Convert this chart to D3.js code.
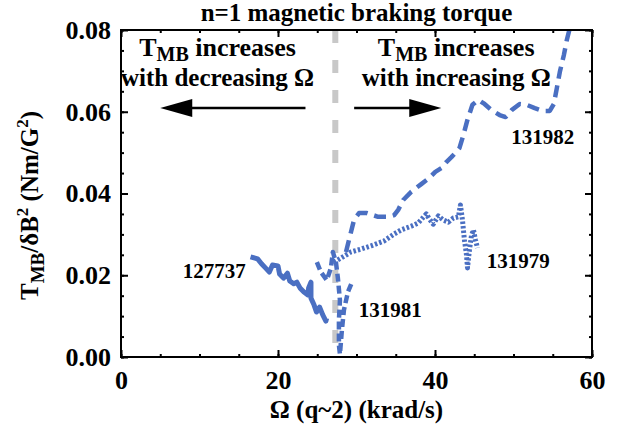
<!DOCTYPE html>
<html>
<head>
<meta charset="utf-8">
<script src="https://cdn.jsdelivr.net/npm/d3@7"></script>
<style>
  body { margin: 0; background: #fff; }
</style>
</head>
<body>
<svg id="chart"></svg>
<script>
var width = 617,
	height = 432;
var margin = ({top: 30, right: 25, bottom: 75, left: 121});
var serif = 'Liberation Serif, Times New Roman, DejaVu Serif, serif';

// Data: rotation (krad/s) and torque (Nm/G^2)
var omega127737 = [16.5, 17.4, 17.9, 18.4, 18.9, 19.3, 20.0, 20.2, 20.7, 21.2, 21.5, 22.0, 22.4, 22.8, 23.3, 23.8, 23.9, 24.2, 24.2, 24.6, 24.9, 25.3, 25.7, 26.1, 26.2];
var torque127737 = [0.0245, 0.0240, 0.0228, 0.0218, 0.0208, 0.0225, 0.0223, 0.0203, 0.0193, 0.0205, 0.0186, 0.0179, 0.0183, 0.0169, 0.0159, 0.0152, 0.0169, 0.0183, 0.0144, 0.0127, 0.0110, 0.0122, 0.0103, 0.0088, 0.0095];

var omega131981 = [24.95, 25.46, 26.22, 26.74, 26.99, 27.38, 27.63, 27.89, 27.76, 27.76, 27.89, 28.14, 28.40, 28.91, 29.42];
var torque131981 = [0.0232, 0.0208, 0.0188, 0.0218, 0.0257, 0.0232, 0.0193, 0.0139, 0.0091, 0.0029, 0.0007, 0.0066, 0.0115, 0.0159, 0.0183];

var omega131979 = [27.12, 28.02, 29.30, 30.58, 31.86, 33.52, 34.80, 35.69, 36.97, 37.87, 38.89, 39.27, 39.78, 40.42, 41.06, 41.70, 42.34, 42.98, 43.24, 43.50, 43.75, 44.01, 44.14, 44.39, 44.65, 44.90, 45.16, 45.41];
var torque131979 = [0.0232, 0.0242, 0.0257, 0.0264, 0.0272, 0.0284, 0.0301, 0.0311, 0.0320, 0.0328, 0.0350, 0.0338, 0.0325, 0.0345, 0.0335, 0.0330, 0.0340, 0.0343, 0.0372, 0.0335, 0.0286, 0.0250, 0.0218, 0.0262, 0.0298, 0.0311, 0.0286, 0.0267];

var omega131982 = [28.66, 29.30, 29.68, 30.32, 31.34, 32.75, 34.16, 34.80, 35.31, 35.95, 36.97, 38.25, 39.27, 40.04, 40.81, 41.45, 42.09, 42.73, 43.11, 43.62, 44.13, 44.77, 45.54, 46.31, 47.20, 48.23, 49.00, 49.76, 50.79, 51.68, 52.71, 53.73, 54.62, 55.14, 55.52, 55.90, 56.42, 56.80, 57.18];
var torque131982 = [0.0257, 0.0306, 0.0335, 0.0352, 0.0352, 0.0343, 0.0343, 0.0347, 0.0360, 0.0384, 0.0404, 0.0423, 0.0438, 0.0453, 0.0462, 0.0477, 0.0489, 0.0502, 0.0511, 0.0543, 0.0580, 0.0617, 0.0629, 0.0619, 0.0604, 0.0592, 0.0587, 0.0604, 0.0619, 0.0617, 0.0609, 0.0602, 0.0602, 0.0619, 0.0658, 0.0697, 0.0739, 0.0776, 0.0805];

var shotNames = ["127737", "131981", "131979", "131982"];
var dividerOmega = 27.3;

var xTicks = [0, 20, 40, 60];
var yTicks = [0, 0.02, 0.04, 0.06, 0.08];

var svg = d3.select('#chart')
	.attr('width', width)
	.attr('height', height)
	.attr('font-family', serif)
	.attr('font-weight', 'bold');

var x = d3.scaleLinear()
	.domain([0, 60])
	.range([margin.left, width - margin.right]);

var y = d3.scaleLinear()
	.domain([0, 0.08])
	.range([height - margin.bottom, margin.top]);

svg.append('clipPath')
	.attr('id', 'plotClip')
	.append('rect')
	.attr('x', margin.left)
	.attr('y', margin.top)
	.attr('width', width - margin.left - margin.right)
	.attr('height', height - margin.top - margin.bottom);

// grey divider
svg.append('line')
	.attr('x1', x(dividerOmega))
	.attr('x2', x(dividerOmega))
	.attr('y1', y(0.08))
	.attr('y2', y(0))
	.attr('stroke', '#c8c8c8')
	.attr('stroke-width', 6)
	.attr('stroke-dasharray', '13,17');

// series
var series = [
	{name: shotNames[0], om: omega127737, tq: torque127737, dash: null, w: 5},
	{name: shotNames[1], om: omega131981, tq: torque131981, dash: '8,4', w: 4.5},
	{name: shotNames[2], om: omega131979, tq: torque131979, dash: '2.5,2', w: 5},
	{name: shotNames[3], om: omega131982, tq: torque131982, dash: '12,7', w: 4.5}
];

var line = d3.line()
	.x(d => x(d[0]))
	.y(d => y(d[1]));

svg.append('g')
	.attr('clip-path', 'url(#plotClip)')
	.selectAll('path')
	.data(series)
	.join('path')
		.attr('d', s => line(d3.zip(s.om, s.tq)))
		.attr('fill', 'none')
		.attr('stroke', '#4a6fc2')
		.attr('stroke-width', s => s.w)
		.attr('stroke-linejoin', 'round')
		.attr('stroke-dasharray', s => s.dash);

// shot labels
var labelPos = [
	{om: 15.9, tq: 0.0193, anchor: 'end'},
	{om: 30.3, tq: 0.0098, anchor: 'start'},
	{om: 46.6, tq: 0.0218, anchor: 'start'},
	{om: 49.7, tq: 0.0521, anchor: 'start'}
];
svg.append('g')
	.selectAll('text')
	.data(labelPos)
	.join('text')
		.attr('x', d => x(d.om))
		.attr('y', d => y(d.tq))
		.attr('text-anchor', d => d.anchor)
		.attr('font-size', 21)
		.text((d, i) => shotNames[i]);

// axes: inside ticks on all four sides
var plotB = height - margin.bottom, plotT = margin.top;
var plotL = margin.left, plotR = width - margin.right;
var minorX = d3.range(0, 61, 5), minorY = d3.range(0, 0.0801, 0.005);

function ticksOnly(axis) {
	return g => g.call(axis).call(g => g.select('.domain').remove())
		.call(g => g.selectAll('.tick line').attr('stroke-width', 2));
}
svg.append('g').attr('transform', 'translate(0,' + plotB + ')')
	.call(ticksOnly(d3.axisBottom(x).tickValues(minorX).tickSize(-3).tickFormat('')));
svg.append('g').attr('transform', 'translate(0,' + plotT + ')')
	.call(ticksOnly(d3.axisTop(x).tickValues(minorX).tickSize(-3).tickFormat('')));
svg.append('g').attr('transform', 'translate(' + plotL + ',0)')
	.call(ticksOnly(d3.axisLeft(y).tickValues(minorY).tickSize(-3).tickFormat('')));
svg.append('g').attr('transform', 'translate(' + plotR + ',0)')
	.call(ticksOnly(d3.axisRight(y).tickValues(minorY).tickSize(-3).tickFormat('')));

svg.append('g').attr('transform', 'translate(0,' + plotT + ')')
	.call(ticksOnly(d3.axisTop(x).tickValues(xTicks).tickSize(-7).tickFormat('')));
svg.append('g').attr('transform', 'translate(' + plotR + ',0)')
	.call(ticksOnly(d3.axisRight(y).tickValues(yTicks).tickSize(-7).tickFormat('')));

svg.append('g')
	.attr('transform', 'translate(0,' + plotB + ')')
	.call(ticksOnly(d3.axisBottom(x).tickValues(xTicks).tickSize(-7).tickPadding(14).tickFormat(d3.format('d'))))
	.attr('font-family', serif).attr('font-size', 26)
	.call(g => g.selectAll('.tick text').attr('fill', '#000').attr('font-weight', 'bold'));

svg.append('g')
	.attr('transform', 'translate(' + plotL + ',0)')
	.call(ticksOnly(d3.axisLeft(y).tickValues(yTicks).tickSize(-7).tickPadding(10).tickFormat(d3.format('.2f'))))
	.attr('font-family', serif).attr('font-size', 26)
	.call(g => g.selectAll('.tick text').attr('fill', '#000').attr('font-weight', 'bold'));

svg.append('rect')
	.attr('x', plotL)
	.attr('y', plotT)
	.attr('width', plotR - plotL)
	.attr('height', plotB - plotT)
	.attr('fill', 'none')
	.attr('stroke', '#000')
	.attr('stroke-width', 2);

// title and axis labels
svg.append('text')
	.attr('x', (plotL + plotR) / 2)
	.attr('y', 21)
	.attr('text-anchor', 'middle')
	.attr('font-size', 25)
	.text('n=1 magnetic braking torque');

svg.append('text')
	.attr('x', (plotL + plotR) / 2)
	.attr('y', 418)
	.attr('text-anchor', 'middle')
	.attr('font-size', 25)
	.text('\u03A9 (q~2) (krad/s)');

var yLab = svg.append('text')
	.attr('transform', 'translate(38,' + ((plotT + plotB) / 2 + 12) + ') rotate(-90)')
	.attr('text-anchor', 'middle')
	.attr('font-size', 25);
yLab.append('tspan').text('T');
yLab.append('tspan').attr('font-size', 19).attr('dy', 6).text('MB');
yLab.append('tspan').attr('dy', -6).text('/\u03B4B');
yLab.append('tspan').attr('font-size', 17).attr('dy', -10).text('2');
yLab.append('tspan').attr('dy', 10).text(' (Nm/G');
yLab.append('tspan').attr('font-size', 17).attr('dy', -10).text('2');
yLab.append('tspan').attr('dy', 10).text(')');

// annotations
var notes = [
	{om: 12.3, second: 'with decreasing \u03A9'},
	{om: 42.7, second: 'with increasing \u03A9'}
];
notes.forEach(function(n) {
	var t1 = svg.append('text')
		.attr('x', x(n.om))
		.attr('y', y(0.0737))
		.attr('text-anchor', 'middle')
		.attr('font-size', 26);
	t1.append('tspan').text('T');
	t1.append('tspan').attr('font-size', 20).attr('dy', 5).text('MB');
	t1.append('tspan').attr('dy', -5).text(' increases');
	svg.append('text')
		.attr('x', x(n.om))
		.attr('y', y(0.0663))
		.attr('text-anchor', 'middle')
		.attr('font-size', 25)
		.text(n.second);
});

var arrows = [
	{from: 23.5, to: 5.0},
	{from: 29.7, to: 40.8}
];
var arrowT = 0.0609;
arrows.forEach(function(a) {
	var dir = a.to > a.from ? 1 : -1;
	var tipX = x(a.to), yy = y(arrowT);
	svg.append('line')
		.attr('x1', x(a.from))
		.attr('x2', tipX - dir * 25)
		.attr('y1', yy)
		.attr('y2', yy)
		.attr('stroke', '#000')
		.attr('stroke-width', 2.5);
	svg.append('path')
		.attr('d', 'M' + tipX + ',' + yy + 'L' + (tipX - dir * 32) + ',' + (yy - 9) + 'L' + (tipX - dir * 32) + ',' + (yy + 9) + 'Z')
		.attr('fill', '#000');
});
</script>
</body>
</html>
